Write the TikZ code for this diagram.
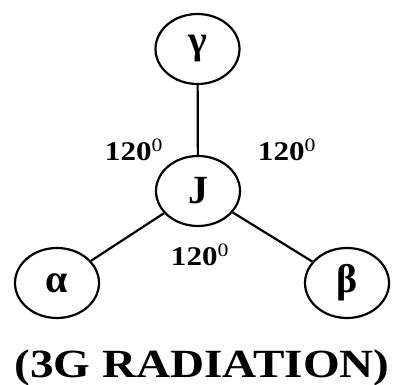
\documentclass[tikz,border=0pt]{standalone}
\usepackage{fontspec}
\setmainfont{Liberation Serif}
\usetikzlibrary{shapes.geometric, positioning}

\begin{document}
\begin{tikzpicture}[x=1pt, y=-1pt, every node/.style={font=\bfseries}, particle/.style={ellipse, draw=black, line width=2.2pt, minimum width=84pt, minimum height=70pt, inner sep=0pt, font=\bfseries\fontsize{40}{40}\selectfont}, angle/.style={inner sep=0pt, xscale=1.15, font=\bfseries\fontsize{27}{27}\selectfont}, link/.style={line width=2.2pt, draw=black}]
\useasboundingbox (0,0) rectangle (396,385);
\node[particle] (gamma) at (197.5,49) {γ};
\node[particle] (J) at (198,191) {J};
\node[particle] (alpha) at (57,283) {α};
\node[particle] (beta) at (347,283) {β};

\node[angle] (ang1) at (134,150) {120\textsuperscript{\mdseries 0}};
\node[angle] (ang2) at (287,150) {120\textsuperscript{\mdseries 0}};
\node[angle] (ang3) at (200,255) {120\textsuperscript{\mdseries 0}};

\node[inner sep=0pt, anchor=base, xscale=1.18, font=\bfseries\fontsize{40}{40}\selectfont] (title) at (202,377) {(3G RADIATION)};

\draw [link] (gamma) -- (J);
\draw [link] (J) -- (alpha);
\draw [link] (J) -- (beta);
\end{tikzpicture}
\end{document}
